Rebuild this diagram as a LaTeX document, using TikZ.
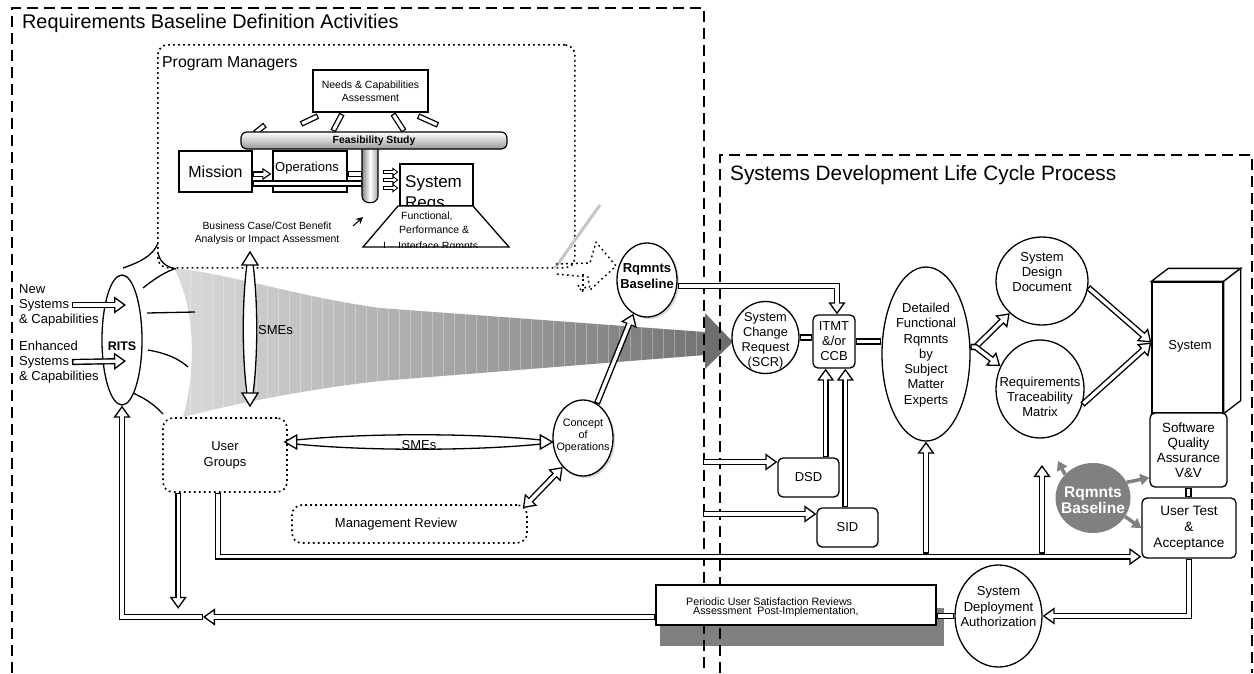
\documentclass[tikz,border=0pt]{standalone}
\usepackage{fontspec}
\setmainfont{Liberation Sans}
\usetikzlibrary{arrows.meta,calc,shapes.geometric,shadows}
\newcommand{\fsz}[2]{\fontsize{#1}{#2}\selectfont}
\definecolor{fgA}{gray}{0.86}
\definecolor{fgB}{gray}{0.45}
\definecolor{arrG}{gray}{0.43}
\definecolor{circG}{gray}{0.5}
\definecolor{shG}{gray}{0.5}
\tikzset{
 HollowHd/.tip={Triangle[fill=white,length=12pt,width=17pt,line width=1.3pt]},
 HollowSm/.tip={Triangle[fill=white,length=6pt,width=9pt,line width=0.9pt]},
 dlo/.style={line width=6.2pt,draw=black},
 dli/.style={line width=3.4pt,draw=white,shorten <=1.4pt,shorten >=1.4pt},
 bx/.style={draw=black,line width=1.3pt,fill=white,inner sep=0pt},
 rbx/.style={bx,rounded corners=5pt},
 ell/.style={draw=black,line width=1.3pt,fill=white,ellipse,inner sep=0pt},
 dotbox/.style={draw=black,line width=1.6pt,dash pattern=on 1.8pt off 3.2pt,rounded corners=10pt,inner sep=0pt},
 frm/.style={draw=black,line width=1.4pt,dash pattern=on 11pt off 6pt},
 txt/.style={inner sep=0pt,align=center},
 garr/.style={draw=circG,line width=3.5pt,-{Triangle[length=9pt,width=11pt]}},
 shd/.style={drop shadow={shadow xshift=2pt,shadow yshift=-2pt,fill=gray!60}},
}
\newcommand{\dlArrow}[1]{\draw[dlo,-HollowHd] #1; \draw[dli,shorten >=9.5pt] #1;}
\newcommand{\dlBoth}[1]{\draw[dlo,HollowHd-HollowHd] #1; \draw[dli,shorten >=9.5pt,shorten <=9.5pt] #1;}
\newcommand{\dlLine}[1]{\draw[dlo] #1; \draw[dli] #1;}
\newcommand{\dlSmall}[1]{\draw[line width=3.8pt,-HollowSm] #1; \draw[line width=1.8pt,white,shorten <=1pt,shorten >=4.5pt] #1;}
\begin{document}
\begin{tikzpicture}[x=1pt,y=-1pt]
\useasboundingbox (0,0) rectangle (1254,673);
\fill[white] (0,0) rectangle (1254,673);

% ---------- funnel ----------
\begin{scope}
\path[clip] (174,268) .. controls (230,274) and (300,297) .. (380,308) -- (705,332) -- (705,355) -- (380,381) .. controls (300,390) and (230,405) .. (183,417) .. controls (196,370) and (196,310) .. (174,268) -- cycle;
\shade[left color=fgA,right color=fgB] (170,260) rectangle (710,420);
\foreach \x in {190,201,...,700} \draw[white,opacity=0.3,line width=0.6pt] (\x,260) -- (\x,420);
\end{scope}
\fill[arrG] (705,313) -- (733,342) -- (705,369) -- cycle;

% ---------- radiating curves ----------
\begin{scope}[line width=1.3pt]
\draw (123,268) .. controls (140,262) and (153,256) .. (158,243);
\draw (158,253) .. controls (160,262) and (166,267) .. (176,269);
\draw (143,288) .. controls (153,280) and (163,273) .. (174,269);
\draw (147,313) -- (195,312);
\draw (148,350) .. controls (165,353) and (178,358) .. (188,367);
\draw (125,390) .. controls (140,395) and (153,403) .. (163,414);
\end{scope}

% ---------- periodic shadow + frames ----------
\node[bx,draw=none,fill=none,minimum width=280,minimum height=40] (per) at (796,605) {};
\fill[shG] ($(per.south west)+(5,-18)$) rectangle ($(per.south east)+(7,20)$);
\draw[frm] (12,673) -- (12,8) -- (704,8) -- (704,673);
\draw[frm] (720,673) -- (720,155) -- (1252,155) -- (1252,673);
\node[anchor=base west,inner sep=0pt,font=\fsz{19.8}{22}] (t1) at (22,28) {Requirements Baseline Definition Activities};
\node[anchor=base west,inner sep=0pt,font=\fsz{20.8}{24}] (t2) at (730,180) {Systems Development Life Cycle Process};

% ---------- program managers ----------
\node[dotbox,minimum width=417,minimum height=223,anchor=north west] (pm) at (157,44) {};
\node[anchor=base west,inner sep=0pt,font=\fsz{15.8}{18}] (pmt) at (162,67) {Program Managers};

\foreach \sa/\sb/\sc/\sd in {318/116/301/124, 342/114/333/131, 393/114/404/131, 418/116/438/125, 265/125/255/133}{
 \draw[line width=5.8pt] (\sa,\sb) -- (\sc,\sd);
 \draw[white,line width=3.2pt,shorten <=1.3pt,shorten >=1.3pt] (\sa,\sb) -- (\sc,\sd);
}
\node[bx,minimum width=115,minimum height=42,font=\fsz{10.5}{13},align=center] (needs) at (370.5,91) {Needs \& Capabilities\\Assessment};

\coordinate (cyl) at (370,175);
\shade[draw=black,line width=1.1pt,left color=gray!95,right color=gray!70,middle color=white] (362,145) -- (362,196) .. controls (362,205) and (378,205) .. (378,196) -- (378,145) -- cycle;
\node[draw=black,line width=1.2pt,rounded corners=6pt,minimum width=266,minimum height=17,inner sep=0pt,top color=white,bottom color=gray!80,font=\bfseries\fsz{10.4}{12}] (feas) at (374,140.5) {\raisebox{-2.5pt}{Feasibility Study}};

\node[bx,minimum width=73,minimum height=41,font=\fsz{16}{18}] (mission) at (215.5,171.5) {\raisebox{-3pt}{Mission}};
\node[bx,minimum width=74,minimum height=41] (ops) at (310,171.5) {};
\node[txt,font=\fsz{13}{15}] (opst) at (307,168) {Operations};
\dlLine{($(mission.east)+(0,12)$) -- ($(cyl)+(-8,8.5)$)}
\draw[line width=5.6pt,-{Triangle[fill=white,length=9pt,width=12pt,line width=1.1pt]}] ($(mission.east)+(0,2.5)$) -- ($(ops.west)+(-1,2.5)$);
\draw[line width=3pt,white,shorten <=1.3pt,shorten >=7pt] ($(mission.east)+(0,2.5)$) -- ($(ops.west)+(-1,2.5)$);
\dlLine{($(ops.east)+(0,2.5)$) -- ($(cyl)+(-8,-1)$)}

\node[bx,minimum width=73,minimum height=42] (sysreq) at (436.5,185) {};
\dlSmall{($(sysreq.west)+(-16,-13)$) -- ($(sysreq.west)+(-1,-13)$)}
\dlSmall{($(sysreq.west)+(-16,-5)$) -- ($(sysreq.west)+(-1,-5)$)}
\dlSmall{($(sysreq.west)+(-16,3)$) -- ($(sysreq.west)+(-1,3)$)}
\node[anchor=base west,inner sep=0pt,font=\fsz{17}{20}] (srt1) at (405,187) {System};
\node[anchor=base west,inner sep=0pt,font=\fsz{17}{20}] (srt2) at (405,208) {Reqs.};
\fill[white] (398,206) -- (473,206) -- (509,247) -- (363,247) -- cycle;
\begin{scope}
\clip (398,206) -- (473,206) -- (509,247) -- (363,247) -- cycle;
\node[anchor=base west,inner sep=0pt,font=\fsz{10.5}{12}] (fr1) at (401,219) {Functional,};
\node[anchor=base west,inner sep=0pt,font=\fsz{10.5}{12}] (fr2) at (399,233) {Performance \&};
\node[anchor=base west,inner sep=0pt,font=\fsz{10.5}{12}] (fr3) at (398,249.5) {Interface Rqmnts};
\node[anchor=base west,inner sep=0pt,font=\fsz{10.5}{12}] (fr4) at (383,249.5) {I};
\end{scope}
\draw[line width=1.3pt] (398,206) -- (473,206) -- (509,247) -- (363,247) -- cycle;

\draw[line width=1pt,-{Stealth[length=7pt,width=7pt]}] (353,226) -- (363,217);
\node[txt,font=\fsz{10.4}{13}] (bc) at (267,233) {Business Case/Cost Benefit\\Analysis or Impact Assessment};

% ---------- grey slash and dotted arrow ----------
\draw[line width=3pt,gray!45] (600,205) -- (555,268);
\draw[line width=1.4pt,dash pattern=on 1.8pt off 3.2pt,line join=round] (556,264) -- (590,263) -- (596,242) -- (616,266) -- (590,290) -- (588,277) -- (556,274);
\draw[line width=1.4pt,dash pattern=on 1.8pt off 3.2pt] (583,274) -- (583,290);
\draw[line width=1.4pt,dash pattern=on 1.8pt off 2.4pt] (578,285) -- (582,292) -- (587,285);

% ---------- RITS ----------
\node[ell,minimum width=40,minimum height=130] (rits) at (122,340) {};
\node[txt,font=\bfseries\fsz{12.5}{14}] (ritst) at (122,346) {RITS};
\node[txt,align=left,anchor=west,font=\fsz{13}{15}] (nsys) at (19,305) {New\\Systems\\\& Capabilities};
\node[txt,align=left,anchor=west,font=\fsz{13}{15}] (esys) at (19,362) {Enhanced\\Systems\\\& Capabilities};
\dlArrow{($(nsys.west)+(53,0)$) -- ($(rits.center)+(4,-35)$)}
\dlArrow{($(esys.west)+(53,0)$) -- ($(rits.center)+(4,21)$)}

% ---------- SMEs vertical lens ----------
\coordinate (smeT) at (250,252);
\coordinate (smeB) at (250,406);
\filldraw[fill=white,line width=1.3pt] ($(smeT)+(-3,12)$) .. controls ($(smeT)+(-8,50)$) and ($(smeB)+(-8,-50)$) .. ($(smeB)+(-3,-12)$) -- ($(smeB)+(3,-12)$) .. controls ($(smeB)+(8,-50)$) and ($(smeT)+(8,50)$) .. ($(smeT)+(3,12)$) -- cycle;
\filldraw[fill=white,line width=1.3pt] (smeT) -- +(8,13) -- +(-8,13) -- cycle;
\filldraw[fill=white,line width=1.3pt] (smeB) -- +(8,-13) -- +(-8,-13) -- cycle;
\node[anchor=west,inner sep=0pt,font=\fsz{13}{15}] (smev) at (258,330) {SMEs};

% ---------- user groups, concept, management ----------
\node[dotbox,minimum width=124,minimum height=74,font=\fsz{13}{16},align=center] (ug) at (225,455) {User\\Groups};
\node[ell,shd,minimum width=60,minimum height=76] (concept) at (583,438) {};
\node[txt,font=\fsz{10.8}{12}] (conceptt) at (583,436) {Concept\\of\\Operations};
\node[dotbox,minimum width=235,minimum height=38] (mgmt) at (409.5,524) {};
\node[txt,font=\fsz{13}{15}] (mgmtt) at (396,524) {Management Review};

\coordinate (smeL) at ($(ug.east)+(-3,-13)$);
\coordinate (smeR) at ($(concept.west)+(0,4)$);
\filldraw[fill=white,line width=1.3pt] ($(smeL)+(11,-2)$) .. controls ($(smeL)+(80,-9)$) and ($(smeR)+(-80,-9)$) .. ($(smeR)+(-11,-2)$) -- ($(smeR)+(-11,2)$) .. controls ($(smeR)+(-80,9)$) and ($(smeL)+(80,9)$) .. ($(smeL)+(11,2)$) -- cycle;
\filldraw[fill=white,line width=1.3pt] (smeL) -- +(12,-7) -- +(12,7) -- cycle;
\filldraw[fill=white,line width=1.3pt] (smeR) -- +(-12,-7) -- +(-12,7) -- cycle;
\node[anchor=base,inner sep=0pt,font=\fsz{13}{15}] (smeh) at (419,449) {SMEs};

\dlBoth{($(mgmt.north east)+(-5,4)$) -- (concept.235)}

% ---------- Rqmnts baseline (top) ----------
\node[ell,shd,minimum width=60,minimum height=74] (rb) at (647,280) {};
\node[txt,font=\bfseries\fsz{13}{16}] (rbt) at (647,276) {Rqmnts\\Baseline};
\dlArrow{(concept) -- (rb)}

% ---------- right side nodes ----------
\node[ell,minimum width=67,minimum height=72] (scr) at (765.5,337.5) {};
\node[txt,font=\fsz{12.8}{15}] (scrt) at (765.5,341) {System\\Change\\Request\\(SCR)};
\node[rbx,minimum width=42,minimum height=53,font=\fsz{13}{15},align=center] (itmt) at (834,341.5) {ITMT\\\&/or\\CCB};
\node[ell,minimum width=88,minimum height=174] (det) at (926,354) {};
\node[txt,font=\fsz{13}{15.3}] (dett) at (926,355) {Detailed\\Functional\\Rqmnts\\by\\Subject\\Matter\\Experts};
\node[ell,minimum width=92,minimum height=88] (sdd) at (1042,281) {};
\node[txt,font=\fsz{13}{15}] (sddt) at (1042,272) {System\\Design\\Document};
\node[ell,minimum width=88,minimum height=98] (rtm) at (1040,389) {};
\node[txt,font=\fsz{13}{15}] (rtmt) at (1040,397) {Requirements\\Traceability\\Matrix};

\node[bx,minimum width=71,minimum height=131] (sys) at (1187.5,347.5) {};
\draw[line width=1.3pt,fill=white] (sys.north west) -- ++(17,-13) -- ($(sys.north east)+(17,-13)$) -- (sys.north east) -- cycle;
\draw[line width=1.3pt,fill=white] (sys.north east) -- ($(sys.north east)+(17,-13)$) -- ($(sys.south east)+(17,-13)$) -- (sys.south east) -- cycle;
\node[txt,font=\fsz{13}{15}] (syst) at (1190,346) {System};
\node[rbx,minimum width=77,minimum height=74,font=\fsz{13.4}{15},align=center] (sqa) at (1188.5,450) {Software\\Quality\\Assurance\\V\&V};
\node[rbx,minimum width=94,minimum height=60,font=\fsz{13.6}{16},align=center] (utest) at (1189,528) {User Test\\\&\\Acceptance};
\dlLine{(sqa.south) -- (sqa.south |- utest.north)}

\node[ellipse,fill=circG,inner sep=0pt,minimum width=75,minimum height=70] (rb2) at (1093,498) {};
\node[txt,text=white,font=\bfseries\fsz{15.5}{16}] (rb2t) at (1093,500) {Rqmnts\\Baseline};
\coordinate (gA) at (1058,461);
\draw[garr] (rb2.140) -- (gA);
\draw[garr] (rb2.25) -- ($(sqa.south west)+(0,-10)$);
\draw[garr] (rb2.-30) -- (utest.west);

\node[rbx,minimum width=61,minimum height=39,font=\fsz{13}{15}] (dsd) at (808.5,477.5) {DSD};
\node[rbx,minimum width=61,minimum height=39,font=\fsz{13}{15}] (sid) at (847.5,527.5) {SID};
\node[ell,minimum width=87,minimum height=102] (sda) at (998.5,616) {};
\node[txt,font=\fsz{13}{15.5}] (sdat) at (998.5,607) {System\\Deployment\\Authorization};

% ---------- right side connectors ----------
\dlArrow{($(rb.east)+(0,6)$) -| ($(itmt.north)+(3,0)$)}
\dlLine{(scr.east) -- (scr.east -| itmt.west)}
\dlLine{(itmt.east) -- (itmt.east -| det.west)}
\coordinate (dsdU) at ($(dsd.north east)+(-14,0)$);
\coordinate (sidU) at ($(sid.north west)+(29,0)$);
\dlArrow{(dsdU) -- (dsdU |- itmt.south)}
\dlArrow{(sidU) -- (sidU |- itmt.south)}
\coordinate (dsdIn) at (703,462);
\coordinate (sidIn) at (703,514);
\dlArrow{(dsdIn) -- (dsdIn -| dsd.west)}
\dlArrow{(sidIn) -- (sidIn -| sid.west)}
\dlArrow{(det.9) -- ++(5,0) -- (sdd.225)}
\dlArrow{(det.9) -- ++(5,0) -- (rtm.150)}
\dlArrow{(sdd.-8) -- ($(sys.west)+(0,-5)$)}
\dlArrow{(rtm.-20) -- ($(sys.west)+(0,-5)$)}

% ---------- bottom loop ----------
\coordinate (ugD) at ($(ug.south)+(-7,0)$);
\coordinate (bl) at ($(utest.south west)+(0,-2)$);
\coordinate (bl2) at ($(utest.south west)+(0,-5)$);
\dlArrow{(ugD) |- (bl)}
\dlArrow{(det.south |- bl2) -- (det.south)}
\coordinate (rtmUp) at (1042,465);
\dlArrow{(rtmUp |- bl2) -- (rtmUp)}
\dlArrow{($(ug.south west)+(16,0)$) -- ++(0,116)}
\dlArrow{(utest.south) |- (sda.east)}
\node[bx,minimum width=280,minimum height=40] (perbox) at (per) {};
\node[anchor=base west,inner sep=0pt,font=\fsz{10.7}{10}] (pert1) at (686,605) {Periodic User Satisfaction Reviews};
\node[anchor=base west,inner sep=0pt,font=\fsz{10.7}{10}] (pert2) at (693,614) {Assessment\ \ Post-Implementation,};
\dlLine{(sda.west) -- (sda.west -| per.east)}
\coordinate (perL) at ($(per.west)+(0,12)$);
\coordinate (ritsJ) at (203,617);
\dlArrow{(perL) -- (ritsJ)}
\dlArrow{(ritsJ) -| (rits.south)}
\end{tikzpicture}
\end{document}
